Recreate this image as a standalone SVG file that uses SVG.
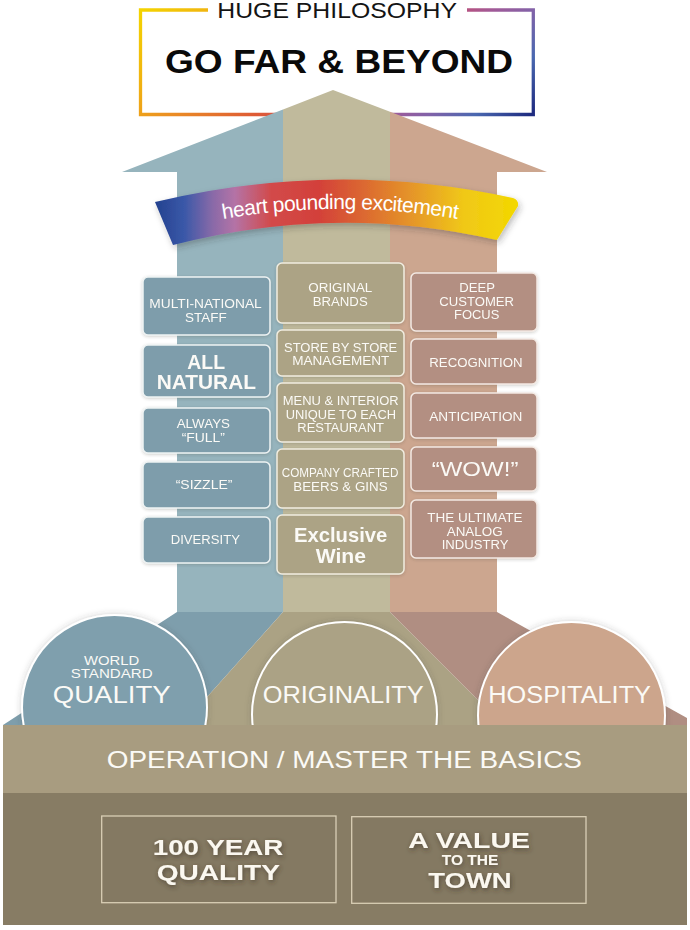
<svg xmlns="http://www.w3.org/2000/svg" width="690" height="930" viewBox="0 0 690 930">
<style>
text{font-family:"Liberation Sans",Arial,Helvetica,sans-serif}
.s{font-size:12.5px;fill:#fbfaf6}
.b{font-weight:bold}
.cl{font-size:24.5px;fill:#fbfaf6}
.bt{font-weight:bold;fill:#fbf8f0}
.boxL{fill:#7e9dab;stroke:#eef3f3;stroke-width:1.5}
.boxM{fill:#aca385;stroke:#f1ede0;stroke-width:1.5}
.boxR{fill:#b38f82;stroke:#f3e9e3;stroke-width:1.5}
.circ{stroke:#ffffff;stroke-width:2}
.bb{fill:#847962;stroke:#d9ceb5;stroke-width:1.3}
</style>
<defs>
<linearGradient id="frame" gradientUnits="userSpaceOnUse" x1="140" y1="10" x2="533" y2="403">
<stop offset="0" stop-color="#f4d400"/>
<stop offset="0.1" stop-color="#f0b012"/>
<stop offset="0.18" stop-color="#ea8a25"/>
<stop offset="0.28" stop-color="#de5a35"/>
<stop offset="0.38" stop-color="#cc4b6a"/>
<stop offset="0.45" stop-color="#a05a98"/>
<stop offset="0.5" stop-color="#8262a8"/>
<stop offset="0.56" stop-color="#4a68b0"/>
<stop offset="0.63" stop-color="#1f2c80"/>
</linearGradient>
<linearGradient id="ribbon" gradientUnits="userSpaceOnUse" x1="155" y1="0" x2="518" y2="0">
<stop offset="0" stop-color="#23418f"/>
<stop offset="0.08" stop-color="#3a58a8"/>
<stop offset="0.16" stop-color="#8a6aa8"/>
<stop offset="0.22" stop-color="#b473a6"/>
<stop offset="0.32" stop-color="#d24a4a"/>
<stop offset="0.45" stop-color="#d3403a"/>
<stop offset="0.58" stop-color="#dc6a30"/>
<stop offset="0.72" stop-color="#e69a28"/>
<stop offset="0.85" stop-color="#f0c818"/>
<stop offset="1" stop-color="#f3d800"/>
</linearGradient>
<filter id="sh" x="-10%" y="-10%" width="120%" height="130%">
<feDropShadow dx="0" dy="1" stdDeviation="1.5" flood-color="#3a3a30" flood-opacity="0.25"/>
</filter>
<filter id="rsh" x="-10%" y="-20%" width="120%" height="160%">
<feDropShadow dx="2" dy="3" stdDeviation="3" flood-color="#303030" flood-opacity="0.3"/>
</filter>
<filter id="csh" x="-10%" y="-10%" width="120%" height="120%">
<feDropShadow dx="0" dy="0" stdDeviation="3" flood-color="#404040" flood-opacity="0.25"/>
</filter>
<filter id="tsh" x="-20%" y="-40%" width="140%" height="180%">
<feDropShadow dx="1" dy="2" stdDeviation="2.5" flood-color="#3a3020" flood-opacity="0.65"/>
</filter>
</defs>

<g id="philosophy">
<path d="M208,10 H140.5 V114.5 H533.3 V10 H467" fill="none" stroke="url(#frame)" stroke-width="3.3"/>
<text x="217.3" y="18.3" font-size="22" fill="#141414" textLength="239.7" lengthAdjust="spacingAndGlyphs">HUGE PHILOSOPHY</text>
<text x="165" y="73.3" font-size="33" font-weight="bold" fill="#0a0a0a" textLength="348" lengthAdjust="spacingAndGlyphs">GO FAR &amp; BEYOND</text>
</g>

<g id="arrow">
<path d="M283,109.4 L122,172 L177,172 L177,612 L283,612 Z" fill="#96b4bd"/>
<path d="M283,109.4 L333,90 L390,111.8 L390,612 L283,612 Z" fill="#c0ba9c"/>
<path d="M390,111.8 L547,172 L497,172 L497,612 L390,612 Z" fill="#cca68f"/>
<path d="M177,612 L283,612 L182,725 L3,725 Z" fill="#7e9eac"/>
<path d="M283,612 L390,612 L503,725 L182,725 Z" fill="#aba284"/>
<path d="M390,612 L497,612 L687,718 L687,725 L503,725 Z" fill="#b08e82"/>
</g>

<g id="ribbon-banner">
<path d="M155,202 Q335,159 513,198 Q519,200 518,206 L497,240 Q335,203 173,245 Z" fill="url(#ribbon)" filter="url(#rsh)"/>
<path id="rtext" d="M223,219 Q340,199 457,219" fill="none"/>
<text font-family="Roboto,'Liberation Sans',sans-serif" font-size="21" fill="#ffffff" letter-spacing="-0.5" text-anchor="middle"><textPath href="#rtext" startOffset="50%">heart pounding excitement</textPath></text>
</g>

<g id="quality-items">
<g id="multi-national-staff" filter="url(#sh)">
<rect class="boxL" x="143" y="277" width="127" height="58" rx="5"/>
<text class="s" x="149.3" y="308.3" textLength="112.4" lengthAdjust="spacingAndGlyphs">MULTI-NATIONAL</text>
<text class="s" x="185" y="321.7" textLength="41.7" lengthAdjust="spacingAndGlyphs">STAFF</text>
</g>
<g id="all-natural" filter="url(#sh)">
<rect class="boxL" x="143" y="345" width="127" height="52" rx="5"/>
<text class="s b" x="187.3" y="369.3" textLength="37.7" lengthAdjust="spacingAndGlyphs" style="font-size:20px">ALL</text>
<text class="s b" x="156.7" y="389.3" textLength="99.3" lengthAdjust="spacingAndGlyphs" style="font-size:20px">NATURAL</text>
</g>
<g id="always-full" filter="url(#sh)">
<rect class="boxL" x="143" y="408" width="127" height="45" rx="5"/>
<text class="s" x="176.7" y="427.7" textLength="53.3" lengthAdjust="spacingAndGlyphs">ALWAYS</text>
<text class="s" x="181.7" y="441.7" textLength="43.3" lengthAdjust="spacingAndGlyphs">“FULL”</text>
</g>
<g id="sizzle" filter="url(#sh)">
<rect class="boxL" x="143" y="462" width="127" height="46" rx="5"/>
<text class="s" x="175.7" y="489.3" textLength="56.7" lengthAdjust="spacingAndGlyphs">“SIZZLE”</text>
</g>
<g id="diversity" filter="url(#sh)">
<rect class="boxL" x="143" y="517" width="127" height="46" rx="5"/>
<text class="s" x="170.7" y="544" textLength="69.3" lengthAdjust="spacingAndGlyphs">DIVERSITY</text>
</g>
</g>

<g id="originality-items">
<g id="original-brands" filter="url(#sh)">
<rect class="boxM" x="277" y="263" width="127" height="60" rx="5"/>
<text class="s" x="308.3" y="292.3" textLength="64" lengthAdjust="spacingAndGlyphs">ORIGINAL</text>
<text class="s" x="312.7" y="306" textLength="55" lengthAdjust="spacingAndGlyphs">BRANDS</text>
</g>
<g id="store-by-store" filter="url(#sh)">
<rect class="boxM" x="277" y="330" width="127" height="46" rx="5"/>
<text class="s" x="284" y="351.7" textLength="113.3" lengthAdjust="spacingAndGlyphs">STORE BY STORE</text>
<text class="s" x="292.3" y="365" textLength="97" lengthAdjust="spacingAndGlyphs">MANAGEMENT</text>
</g>
<g id="menu-interior" filter="url(#sh)">
<rect class="boxM" x="277" y="383" width="127" height="59" rx="5"/>
<text class="s" x="282.7" y="405" textLength="116" lengthAdjust="spacingAndGlyphs">MENU &amp; INTERIOR</text>
<text class="s" x="285.7" y="418.7" textLength="110.3" lengthAdjust="spacingAndGlyphs">UNIQUE TO EACH</text>
<text class="s" x="297.3" y="432.3" textLength="86.7" lengthAdjust="spacingAndGlyphs">RESTAURANT</text>
</g>
<g id="company-crafted" filter="url(#sh)">
<rect class="boxM" x="277" y="449" width="127" height="59" rx="5"/>
<text class="s" x="281.7" y="477.3" textLength="116.7" lengthAdjust="spacingAndGlyphs">COMPANY CRAFTED</text>
<text class="s" x="293.3" y="490.7" textLength="94.3" lengthAdjust="spacingAndGlyphs">BEERS &amp; GINS</text>
</g>
<g id="exclusive-wine" filter="url(#sh)">
<rect class="boxM" x="277" y="515" width="127" height="59" rx="5"/>
<text class="s b" x="294" y="541.7" textLength="93.3" lengthAdjust="spacingAndGlyphs" style="font-size:21px">Exclusive</text>
<text class="s b" x="315.7" y="563.3" textLength="50.3" lengthAdjust="spacingAndGlyphs" style="font-size:21px">Wine</text>
</g>
</g>

<g id="hospitality-items">
<g id="deep-customer-focus" filter="url(#sh)">
<rect class="boxR" x="411" y="273" width="126" height="58" rx="5"/>
<text class="s" x="459.3" y="292.3" textLength="35.7" lengthAdjust="spacingAndGlyphs">DEEP</text>
<text class="s" x="439.3" y="306" textLength="74.7" lengthAdjust="spacingAndGlyphs">CUSTOMER</text>
<text class="s" x="454" y="319.3" textLength="45.3" lengthAdjust="spacingAndGlyphs">FOCUS</text>
</g>
<g id="recognition" filter="url(#sh)">
<rect class="boxR" x="411" y="339" width="126" height="45" rx="5"/>
<text class="s" x="429.3" y="366.7" textLength="93.3" lengthAdjust="spacingAndGlyphs">RECOGNITION</text>
</g>
<g id="anticipation" filter="url(#sh)">
<rect class="boxR" x="411" y="393" width="126" height="45" rx="5"/>
<text class="s" x="429.3" y="420.7" textLength="93" lengthAdjust="spacingAndGlyphs">ANTICIPATION</text>
</g>
<g id="wow" filter="url(#sh)">
<rect class="boxR" x="411" y="447" width="126" height="44" rx="5"/>
<text class="s" x="431.7" y="476" textLength="86.7" lengthAdjust="spacingAndGlyphs" style="font-size:20px">“WOW!”</text>
</g>
<g id="ultimate-analog" filter="url(#sh)">
<rect class="boxR" x="411" y="500" width="126" height="58" rx="5"/>
<text class="s" x="427.3" y="522.3" textLength="95.3" lengthAdjust="spacingAndGlyphs">THE ULTIMATE</text>
<text class="s" x="446.7" y="536" textLength="56" lengthAdjust="spacingAndGlyphs">ANALOG</text>
<text class="s" x="441.7" y="549.3" textLength="66.7" lengthAdjust="spacingAndGlyphs">INDUSTRY</text>
</g>
</g>

<g id="pillar-quality">
<circle class="circ" cx="114.5" cy="707.5" r="92.5" fill="#7f9fad" filter="url(#csh)"/>
<text class="s" x="84" y="665" textLength="55.3" lengthAdjust="spacingAndGlyphs" style="font-size:13px">WORLD</text>
<text class="s" x="70.7" y="678.3" textLength="82" lengthAdjust="spacingAndGlyphs" style="font-size:13px">STANDARD</text>
<text class="cl" x="52.7" y="702.7" textLength="118" lengthAdjust="spacingAndGlyphs">QUALITY</text>
</g>
<g id="pillar-originality">
<circle class="circ" cx="344.5" cy="714.5" r="92.5" fill="#aba285" filter="url(#csh)"/>
<text class="cl" x="262.7" y="702.7" textLength="161" lengthAdjust="spacingAndGlyphs">ORIGINALITY</text>
</g>
<g id="pillar-hospitality">
<circle class="circ" cx="571.5" cy="715.5" r="93.5" fill="#cca58c" filter="url(#csh)"/>
<text class="cl" x="488.3" y="702.7" textLength="162.7" lengthAdjust="spacingAndGlyphs">HOSPITALITY</text>
</g>

<g id="operation">
<rect x="3" y="725" width="684" height="68" fill="#a89c80"/>
<text class="cl" x="106.7" y="768.3" textLength="475.3" lengthAdjust="spacingAndGlyphs">OPERATION / MASTER THE BASICS</text>
</g>

<g id="foundation">
<rect x="3" y="793" width="684" height="132" fill="#877c64"/>
<g id="hundred-year-quality">
<rect class="bb" x="101.7" y="816" width="234.3" height="86.7"/>
<g filter="url(#tsh)">
<text class="bt" x="152.7" y="855" font-size="22" textLength="130.7" lengthAdjust="spacingAndGlyphs">100 YEAR</text>
<text class="bt" x="156.7" y="880" font-size="22" textLength="123.3" lengthAdjust="spacingAndGlyphs">QUALITY</text>
</g>
</g>
<g id="value-to-town">
<rect class="bb" x="351.7" y="816.7" width="234.3" height="86.6"/>
<g filter="url(#tsh)">
<text class="bt" x="408.3" y="847.5" font-size="22" textLength="121.7" lengthAdjust="spacingAndGlyphs">A VALUE</text>
<text class="bt" x="441.7" y="865" font-size="14" textLength="56.7" lengthAdjust="spacingAndGlyphs">TO THE</text>
<text class="bt" x="428.3" y="888.3" font-size="22" textLength="83.4" lengthAdjust="spacingAndGlyphs">TOWN</text>
</g>
</g>
</g>
</svg>
